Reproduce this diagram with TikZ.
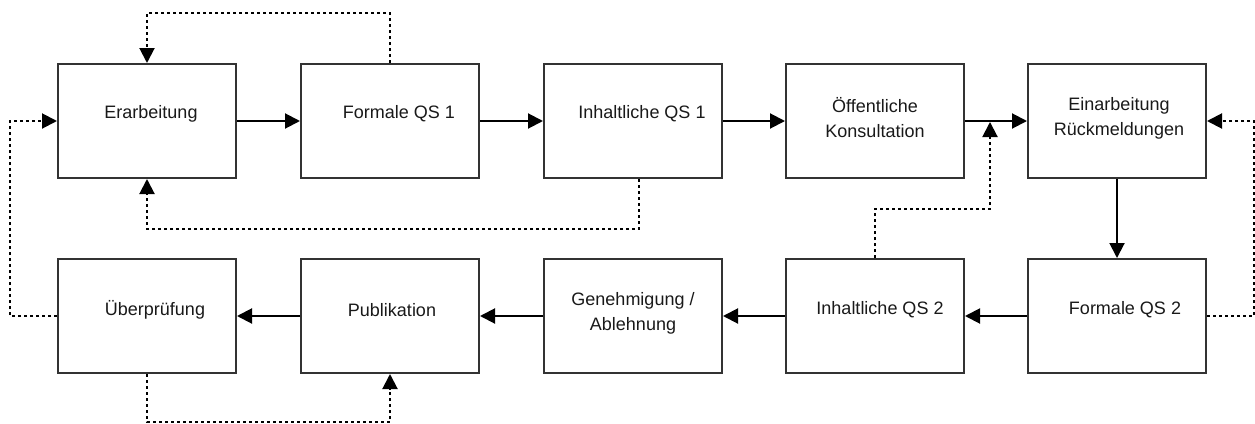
\documentclass[tikz,border=0pt]{standalone}
\usepackage{fontspec}
\setmainfont{Liberation Sans}
\usetikzlibrary{arrows.meta}
\begin{document}
\begin{tikzpicture}[x=1pt,y=-1pt,
  stepbox/.style={draw=black!80, line width=2pt, minimum width=178pt,
    minimum height=114pt, inner sep=0pt},
  lbl/.style={font=\fontsize{18}{25}\selectfont, align=center, text=black!90},
  flow/.style={line width=2pt, -{Triangle[length=15pt,width=15pt]}},
  back/.style={line width=2pt, dash pattern=on 3pt off 3pt,
    -{Triangle[length=15pt,width=15pt]}}]
\useasboundingbox (0,0) rectangle (1255,423);

% upper row
\node[stepbox] (erarb) at (147,121) {};
\node[stepbox] (fqs1)  at (390,121) {};
\node[stepbox] (iqs1)  at (633,121) {};
\node[stepbox] (konsu) at (875,121) {};
\node[stepbox] (einr)  at (1117,121) {};
% lower row
\node[stepbox] (ueber) at (147,316) {};
\node[stepbox] (pub)   at (390,316) {};
\node[stepbox] (gen)   at (633,316) {};
\node[stepbox] (iqs2)  at (875,316) {};
\node[stepbox] (fqs2)  at (1117,316) {};

% labels
\node[lbl] (terarb) at (151,114) {Erarbeitung};
\node[lbl] (tfqs1)  at (399,114) {Formale QS 1};
\node[lbl] (tiqs1)  at (642,114) {Inhaltliche QS 1};
\node[lbl] (tkonsu) at (875,118) {Öffentliche\\Konsultation};
\node[lbl] (teinr)  at (1119,118) {Einarbeitung\\Rückmeldungen};
\node[lbl] (tueber) at (155,310) {Überprüfung};
\node[lbl] (tpub)   at (392,310) {Publikation};
\node[lbl] (tgen)   at (633,313) {Genehmigung /\\Ablehnung};
\node[lbl] (tiqs2)  at (880,310) {Inhaltliche QS 2};
\node[lbl] (tfqs2)  at (1125,310) {Formale QS 2};

% main flow
\draw[flow] (erarb) -- (fqs1);
\draw[flow] (fqs1) -- (iqs1);
\draw[flow] (iqs1) -- (konsu);
\draw[flow] (konsu) -- (einr);
\draw[flow] (einr) -- (fqs2);
\draw[flow] (fqs2) -- (iqs2);
\draw[flow] (iqs2) -- (gen);
\draw[flow] (gen) -- (pub);
\draw[flow] (pub) -- (ueber);

% feedback loops
\coordinate (jn) at (990,122);
\draw[back] (fqs1.north) -- ++(0,-50) -| (erarb.north);
\draw[back] ([xshift=6pt]iqs1.south) -- ++(0,50) -| (erarb.south);
\draw[back] (ueber.west) -- ++(-47,0) |- (erarb.west);
\draw[back] (ueber.south) -- ++(0,48) -| (pub.south);
\draw[back] (iqs2.north) -- ++(0,-49) -| (jn);
\draw[back] (fqs2.east) -- ++(47,0) |- (einr.east);
\end{tikzpicture}
\end{document}
